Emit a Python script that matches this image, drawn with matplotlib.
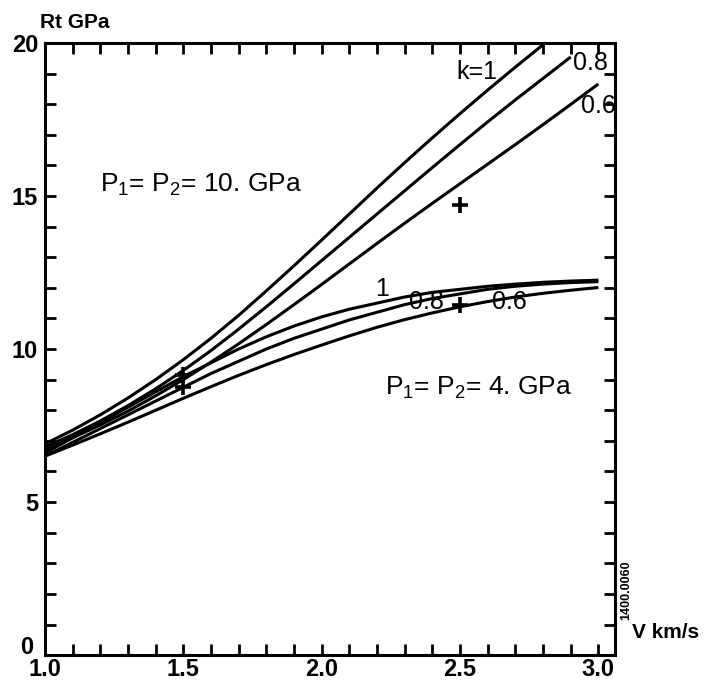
import numpy as np
import matplotlib
matplotlib.use("Agg")
import matplotlib.pyplot as plt
from matplotlib.ticker import MultipleLocator

# --- fonts: Helvetica look-alike, mathtext subscripts in the same face ---
plt.rcParams['font.family'] = ['Liberation Sans', 'DejaVu Sans']
plt.rcParams['mathtext.fontset'] = 'custom'
plt.rcParams['mathtext.rm'] = 'Liberation Sans'
plt.rcParams['mathtext.default'] = 'regular'

# --- data (V in km/s, Rt in GPa) ---
v = [1.0, 1.1, 1.2, 1.3, 1.4, 1.5, 1.6, 1.7, 1.8, 1.9, 2.0,
     2.1, 2.2, 2.3, 2.4, 2.5, 2.6, 2.7, 2.8, 2.9, 3.0]

# P1 = P2 = 10 GPa
rt_p10_k10 = [6.9, 7.35, 7.85, 8.4, 9.0, 9.65, 10.35, 11.1, 11.9, 12.72, 13.56,
              14.41, 15.26, 16.09, 16.9, 17.69, 18.46, 19.21, 19.94, 20.65, 21.35]
rt_p10_k08 = [6.8, 7.2, 7.65, 8.15, 8.7, 9.3, 9.95, 10.65, 11.38, 12.13, 12.89,
              13.65, 14.41, 15.17, 15.93, 16.68, 17.42, 18.14, 18.84, 19.54]
rt_p10_k06 = [6.7, 7.1, 7.52, 7.97, 8.47, 9.0, 9.57, 10.17, 10.8, 11.45, 12.11,
              12.78, 13.45, 14.11, 14.76, 15.4, 16.04, 16.68, 17.33, 17.99, 18.66]

# P1 = P2 = 4 GPa
rt_p4_k10 = [6.6, 7.1, 7.6, 8.1, 8.6, 9.1, 9.55, 10.0, 10.4, 10.75, 11.05,
             11.3, 11.5, 11.7, 11.85, 11.95, 12.05, 12.12, 12.18, 12.22, 12.25]
rt_p4_k08 = [6.5, 6.95, 7.4, 7.85, 8.3, 8.75, 9.2, 9.6, 10.0, 10.35, 10.65,
             10.95, 11.2, 11.45, 11.65, 11.8, 11.95, 12.05, 12.12, 12.17, 12.2]
rt_p4_k06 = [6.5, 6.86, 7.23, 7.61, 8.0, 8.39, 8.77, 9.14, 9.49, 9.82, 10.13,
             10.43, 10.71, 10.96, 11.18, 11.38, 11.55, 11.7, 11.82, 11.92, 12.01]

# measured points (crosses)
meas_v = [1.5, 1.5, 2.5, 2.5]
meas_rt = [9.15, 8.76, 14.7, 11.45]

# --- plot ---
fig = plt.figure(figsize=(7.06, 6.81), dpi=100)
ax = fig.add_axes([0.0637, 0.038, 0.8074, 0.899])

curves = [rt_p10_k10, rt_p10_k08, rt_p10_k06, rt_p4_k10, rt_p4_k08, rt_p4_k06]
for rt in curves:
    ax.plot(v[:len(rt)], rt, color='black', lw=2.2, solid_capstyle='butt',
            solid_joinstyle='round')

ax.plot(meas_v, meas_rt, linestyle='none', marker='+', color='black',
        markersize=11, markeredgewidth=2.6)

ax.set_xlim(1.0, 3.06)
ax.set_ylim(0, 20)

ax.xaxis.set_major_locator(MultipleLocator(0.5))
ax.xaxis.set_minor_locator(MultipleLocator(0.1))
ax.yaxis.set_major_locator(MultipleLocator(5))
ax.yaxis.set_minor_locator(MultipleLocator(1))
ax.xaxis.set_major_formatter(plt.FuncFormatter(lambda x, p: f"{x:.1f}"))
# "0" is drawn by hand below, a little above the corner, clear of "1.0"
ax.yaxis.set_major_formatter(plt.FuncFormatter(lambda y, p: f"{y:.0f}" if y > 0 else ""))

ax.tick_params(which='both', direction='in', top=True, right=True,
               length=8, width=2.0, labelsize=17, pad=5)
ax.tick_params(axis='x', which='major', pad=2)
for lab in ax.get_xticklabels() + ax.get_yticklabels():
    lab.set_fontweight('bold')
for s in ax.spines.values():
    s.set_linewidth(2.2)

fig.text(27 / 706, 1 - 647 / 681, '0', fontsize=17, fontweight='bold',
         ha='center', va='center')

# axis labels
fig.text(40 / 706, 1 - 22 / 681, 'Rt GPa', fontsize=15, fontweight='bold',
         ha='left', va='center')
fig.text(632 / 706, 1 - 632 / 681, 'V km/s', fontsize=15, fontweight='bold',
         ha='left', va='center')
fig.text(626 / 706, 1 - 590 / 681, '1400.0060', fontsize=9, fontweight='bold',
         rotation=90, ha='center', va='center')

# curve annotations
ann = dict(fontsize=18, ha='center', va='center', color='black')
ax.text(2.56, 19.05, 'k=1', **ann)
ax.text(2.97, 19.35, '0.8', **ann)
ax.text(3.00, 17.94, '0.6', **ann)
ax.text(2.22, 11.96, '1', **ann)
ax.text(2.38, 11.54, '0.8', **ann)
ax.text(2.68, 11.54, '0.6', **ann)

ax.text(1.2, 15.36, 'P$_1$= P$_2$= 10. GPa', fontsize=19, ha='left', va='center')
ax.text(2.23, 8.73, 'P$_1$= P$_2$= 4. GPa', fontsize=19, ha='left', va='center')

fig.savefig('out.png', dpi=100)
